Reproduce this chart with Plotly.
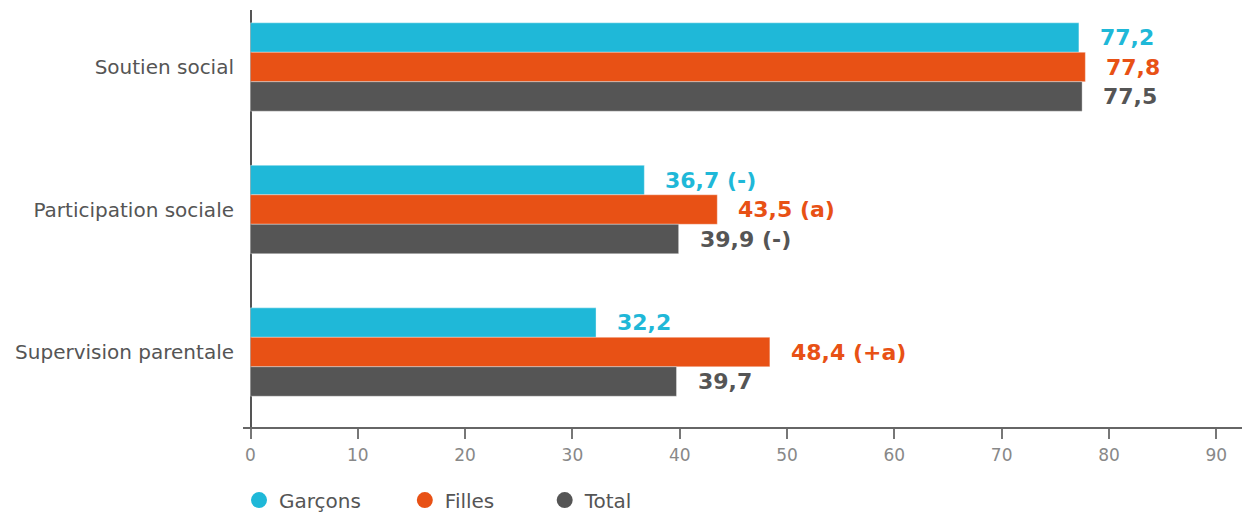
import plotly.graph_objects as go

categories = ["Soutien social", "Participation sociale", "Supervision parentale"]
series_names = ["Garçons", "Filles", "Total"]
garcons = [77.2, 36.7, 32.2]
filles = [77.8, 43.5, 48.4]
total = [77.5, 39.9, 39.7]
garcons_labels = ["77,2", "36,7 (-)", "32,2"]
filles_labels = ["77,8", "43,5 (a)", "48,4 (+a)"]
total_labels = ["77,5", "39,9 (-)", "39,7"]
tick_values = [0, 10, 20, 30, 40, 50, 60, 70, 80, 90]

colors = ["#1FB8D8", "#E85115", "#555555"]
values = [garcons, filles, total]
labels = [garcons_labels, filles_labels, total_labels]

LABEL_FONT = "DejaVu Sans"
AXIS_FONT = "DejaVu Sans"

fig = go.Figure()
for name, vals, col in zip(series_names, values, colors):
    fig.add_trace(go.Bar(
        y=categories, x=vals, name=name, orientation="h",
        marker=dict(color=col, line=dict(color="rgba(255,255,255,0.6)", width=0.6)),
        showlegend=False, hoverinfo="skip",
    ))

# legend entries as circles, one legend box per entry
legend_ids = ["legend", "legend2", "legend3"]
for name, col, lid in zip(series_names, colors, legend_ids):
    fig.add_trace(go.Scatter(
        x=[None], y=[None], mode="markers", name=name, legend=lid,
        marker=dict(color=col, size=16, symbol="circle"),
    ))

# value labels as annotations, positioned from the data
offsets = [-1, 0, 1]
for vals, labs, col, off in zip(values, labels, colors, offsets):
    for i, (v, lab) in enumerate(zip(vals, labs)):
        fig.add_annotation(
            x=v, y=i + off * 0.207, xref="x", yref="y",
            text=f"<b>{lab}</b>", showarrow=False,
            xanchor="left", yanchor="middle", xshift=19,
            font=dict(family=LABEL_FONT, size=22, color=col),
        )

legend_style = dict(
    orientation="h", xanchor="left", y=-0.222, yanchor="bottom",
    font=dict(family=AXIS_FONT, size=20, color="#555555"),
    itemwidth=30, bgcolor="rgba(0,0,0,0)",
)

fig.update_layout(
    width=1242, height=514,
    margin=dict(l=243, r=0, t=10, b=87, autoexpand=False),
    paper_bgcolor="white", plot_bgcolor="white",
    barmode="group", bargap=0.38, bargroupgap=0,
    showlegend=True,
    legend=dict(x=-0.004, **legend_style),
    legend2=dict(x=0.162, **legend_style),
    legend3=dict(x=0.302, **legend_style),
    xaxis=dict(
        range=[-0.7, 92.4], tickvals=tick_values, automargin=False,
        showgrid=False, zeroline=True, zerolinecolor="#555555", zerolinewidth=2,
        showline=True, linecolor="#666666", linewidth=1.5,
        ticks="outside", ticklen=10, tickcolor="#777777", tickwidth=1.5,
        tickfont=dict(family=AXIS_FONT, size=17, color="#888888"),
        ticklabelstandoff=2,
        fixedrange=True,
    ),
    yaxis=dict(
        categoryorder="array", categoryarray=categories, automargin=False,
        range=[2.526, -0.4], showgrid=False, zeroline=False, showline=False,
        ticks="", ticklabelstandoff=8,
        tickfont=dict(family=AXIS_FONT, size=20, color="#555555"),
        fixedrange=True,
    ),
)

fig.write_html(
    "out.html",
    config={"displayModeBar": False},
    post_script="document.body.style.margin='0';document.body.style.overflow='hidden';",
)
